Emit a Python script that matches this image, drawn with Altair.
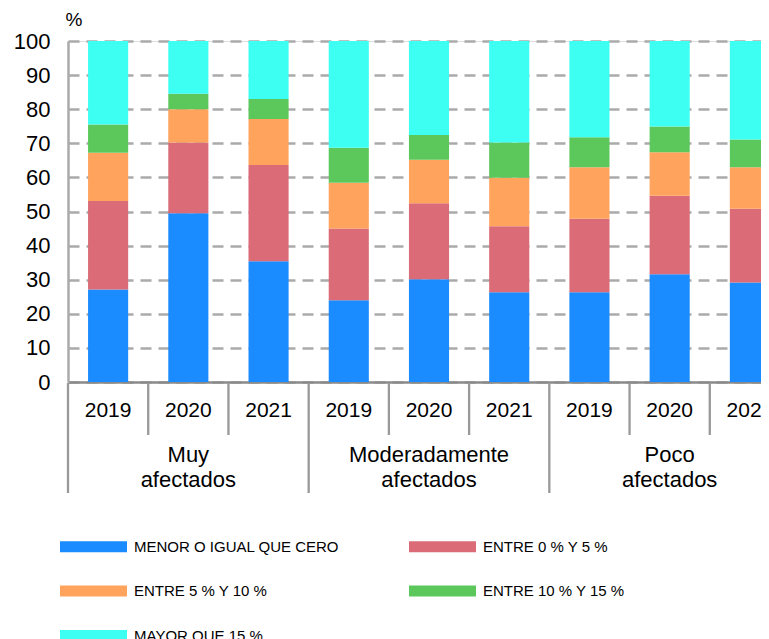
import altair as alt
import pandas as pd

# ---------------- data ----------------
group_labels = ["Muy\nafectados", "Moderadamente\nafectados", "Poco\nafectados"]
years = ["2019", "2020", "2021"]
series = [
    "MENOR O IGUAL QUE CERO",
    "ENTRE 0 % Y 5 %",
    "ENTRE 5 % Y 10 %",
    "ENTRE 10 % Y 15 %",
    "MAYOR QUE 15 %",
]
colors = ["#1a8cff", "#da6b77", "#ffa35d", "#5cc85c", "#3dfff2"]

# order: Muy 2019-2021, Moderadamente 2019-2021, Poco 2019-2021
menor_igual_cero = [27.1, 49.5, 35.4, 24.0, 30.1, 26.3, 26.3, 31.6, 29.2]
entre_0_5 = [26.0, 20.7, 28.2, 21.0, 22.3, 19.4, 21.6, 23.0, 21.6]
entre_5_10 = [14.1, 9.8, 13.5, 13.4, 12.8, 14.2, 15.1, 12.8, 12.2]
entre_10_15 = [8.3, 4.5, 5.9, 10.3, 7.2, 10.3, 8.8, 7.5, 8.1]
mayor_15 = [24.5, 15.5, 17.0, 31.3, 27.6, 29.8, 28.2, 25.1, 28.9]
values = [menor_igual_cero, entre_0_5, entre_5_10, entre_10_15, mayor_15]

keys = [f"{gi}|{y}" for gi in range(len(group_labels)) for y in years]

rows = []
for k_i, key in enumerate(keys):
    for s_i, s in enumerate(series):
        rows.append({"key": key, "series": s, "idx": s_i, "value": values[s_i][k_i]})
bars_df = pd.DataFrame(rows)

labels_df = pd.DataFrame({"key": keys, "year": [k.split("|")[1] for k in keys]})
short_df = labels_df[labels_df.year != years[0]]
long_df = labels_df[labels_df.year == years[0]]
groups_df = pd.DataFrame({"group": group_labels})

# ---------------- layout ----------------
W = 693          # visible plot width (page keeps its 8px margins)
FULL_W = 722     # the category axis runs on past the right edge, as in the original
H = 341
FONT = "Liberation Sans"

band_bars = alt.Scale(domain=keys, paddingInner=0.5, paddingOuter=0.25, range=[0, FULL_W])
band_slots = alt.Scale(domain=keys, paddingInner=0, paddingOuter=0, range=[0, FULL_W])
band_groups = alt.Scale(domain=group_labels, paddingInner=0, paddingOuter=0, range=[0, FULL_W])

legend_symbol = "M-1,-0.164H1V0.164H-1Z"

bars = alt.Chart(bars_df).mark_bar().encode(
    x=alt.X("key:N", scale=band_bars,
            axis=alt.Axis(labels=False, ticks=False, title=None, domain=True,
                          domainColor="#8a8a8a", domainWidth=2.5, grid=False)),
    y=alt.Y("value:Q", stack="zero",
            scale=alt.Scale(domain=[0, 100], nice=False),
            axis=alt.Axis(values=list(range(0, 101, 10)), ticks=False,
                          labelFont=FONT, labelFontSize=22, labelColor="#000000",
                          labelPadding=18, domainColor="#aaaaaa", domainWidth=2.5,
                          grid=True, gridColor="#aaaaaa", gridDash=[11, 7], gridWidth=2.5,
                          title="%", titleAngle=0, titleAlign="left", titleBaseline="alphabetic",
                          titleX=-3, titleY=-16, titleFont=FONT, titleFontSize=19,
                          titleFontWeight="normal", titleColor="#000000")),
    color=alt.Color("series:N", scale=alt.Scale(domain=series, range=colors),
                    legend=alt.Legend(title=None, orient="none", legendX=-8, legendY=472,
                                      direction="horizontal", columns=2, columnPadding=69,
                                      rowPadding=2.5, symbolType=legend_symbol, symbolSize=4489,
                                      symbolStrokeWidth=0, symbolOpacity=1, labelOffset=7,
                                      labelFont=FONT, labelFontSize=15, labelColor="#000000",
                                      labelLimit=400)),
    order=alt.Order("idx:Q", sort="ascending"),
)

year_text = alt.Chart(labels_df).mark_text(
    font=FONT, fontSize=21, color="#000000", baseline="middle", align="center"
).encode(
    x=alt.X("key:N", scale=band_slots, axis=None),
    y=alt.value(370),
    text="year:N",
)

short_sep = alt.Chart(short_df).mark_rule(color="#999999", strokeWidth=2.3).encode(
    x=alt.X("key:N", scale=band_slots, axis=None, bandPosition=0),
    y=alt.value(342),
    y2=alt.value(394),
)

long_sep = alt.Chart(long_df).mark_rule(color="#999999", strokeWidth=2.3).encode(
    x=alt.X("key:N", scale=band_slots, axis=None, bandPosition=0),
    y=alt.value(342),
    y2=alt.value(452),
)

group_text = alt.Chart(groups_df).mark_text(
    font=FONT, fontSize=22, color="#000000", baseline="alphabetic", align="center",
    lineBreak="\n", lineHeight=25
).encode(
    x=alt.X("group:N", scale=band_groups, axis=None),
    y=alt.value(420.5),
    text="group:N",
)

chart = alt.layer(bars, short_sep, long_sep, year_text, group_text).resolve_scale(
    x="independent"
).properties(
    width=W, height=H,
    autosize=alt.AutoSizeParams(type="none"),
    padding={"left": 60, "top": 33, "right": 0, "bottom": 257},
).configure_view(stroke=None).configure(background="white")

chart.save("out.html", embed_options={"renderer": "svg", "actions": False})
